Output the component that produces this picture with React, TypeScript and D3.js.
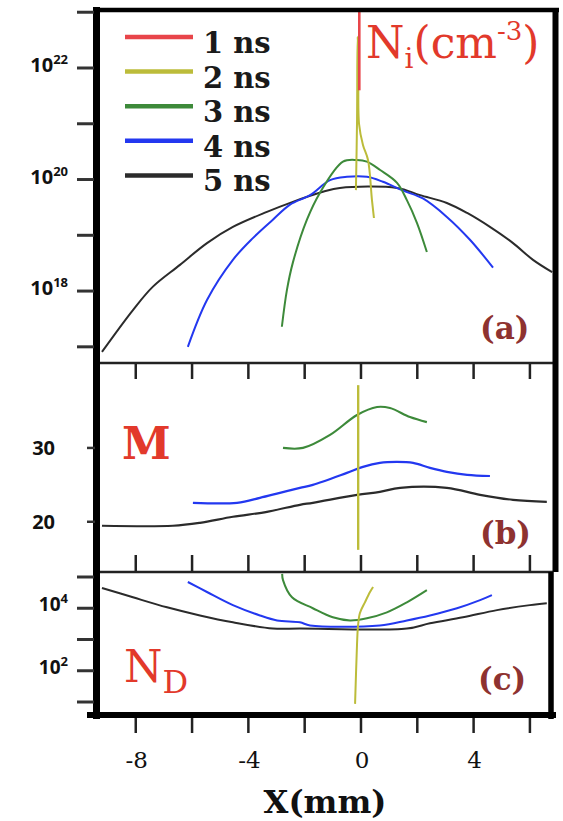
import React from 'react';
import * as d3 from 'd3';

const seriesNames = ['1 ns', '2 ns', '3 ns', '4 ns', '5 ns'];
const seriesColors = ['#e8454a', '#bcbc3a', '#3d8a3a', '#2338f0', '#2b2b2b'];

// Panel (a): Ni, log10 values (cm^-3)
const niX1 = [-0.06, -0.06];
const niLog1 = [23.2, 21.6];
const niX2 = [-0.18, -0.14, -0.12, -0.09, -0.07, 0.07, 0.25, 0.39, 0.46];
const niLog2 = [19.81, 21.07, 22.56, 22.14, 21.0, 20.62, 20.35, 19.63, 19.31];
const niX3 = [-2.81, -2.63, -2.42, -1.92, -1.46, -0.64, -0.14, 0.21, 0.68, 1.28, 1.63, 1.99, 2.34];
const niLog3 = [17.36, 18.02, 18.51, 19.28, 19.76, 20.32, 20.35, 20.32, 20.17, 19.94, 19.63, 19.22, 18.7];
const niX4 = [-6.15, -5.47, -4.55, -3.84, -3.13, -2.52, -1.81, -1.1, -0.5, 0.21, 0.78, 1.5, 2.2, 3.05, 3.87, 4.69];
const niLog4 = [17.0, 17.84, 18.56, 18.95, 19.28, 19.55, 19.72, 19.99, 20.05, 20.05, 19.96, 19.8, 19.66, 19.33, 18.92, 18.42];
const niX5 = [-9.2, -8.1, -7.39, -6.43, -5.47, -4.55, -3.34, -2.42, -1.35, -0.75, 1.28, 2.1, 3.05, 3.77, 4.58, 5.4, 6.11, 6.79];
const niLog5 = [16.91, 17.66, 18.08, 18.47, 18.86, 19.15, 19.42, 19.6, 19.78, 19.85, 19.85, 19.72, 19.58, 19.4, 19.15, 18.86, 18.56, 18.34];

// Panel (b): M
const mX2 = [-0.1, -0.1];
const mVal2 = [38.5, 16.2];
const mX3 = [-2.77, -2.06, -1.1, -0.14, 0.57, 1.03, 1.74, 2.34];
const mVal3 = [30.0, 30.0, 31.76, 34.46, 35.54, 35.4, 34.19, 33.5];
const mX4 = [-5.97, -4.4, -3.59, -2.88, -2.17, -1.71, -0.5, 0.07, 0.67, 1.28, 1.85, 2.45, 3.05, 3.77, 4.58];
const mVal4 = [22.57, 22.57, 23.24, 23.92, 24.59, 25.0, 26.62, 27.43, 27.97, 28.1, 27.97, 27.3, 26.76, 26.35, 26.2];
const mX5 = [-9.2, -6.68, -5.72, -4.55, -3.34, -2.17, -1.71, -0.14, 0.67, 1.39, 3.05, 4.23, 5.4, 6.6];
const mVal5 = [19.46, 19.46, 19.86, 20.68, 21.35, 22.3, 22.57, 23.65, 24.05, 24.6, 24.6, 23.65, 22.97, 22.7];

// Panel (c): ND, log10 values
const ndX2 = [-0.21, -0.14, -0.11, -0.04, 0.14, 0.32, 0.43];
const ndLog2 = [0.94, 2.87, 3.39, 3.84, 4.19, 4.52, 4.68];
const ndX3 = [-2.8, -2.77, -2.45, -1.71, -1.0, -0.39, 0.21, 0.92, 1.63, 2.34];
const ndLog3 = [5.1, 4.9, 4.35, 4.0, 3.71, 3.61, 3.68, 3.87, 4.19, 4.58];
const ndX4 = [-6.15, -5.47, -4.55, -3.59, -2.98, -2.17, -1.81, 0.67, 1.63, 2.45, 3.41, 4.23, 4.65];
const ndLog4 = [4.84, 4.52, 4.1, 3.77, 3.61, 3.55, 3.45, 3.45, 3.61, 3.77, 4.0, 4.26, 4.42];
const ndX5 = [-9.2, -8.1, -6.89, -5.72, -4.55, -3.13, -2.17, 1.63, 2.45, 3.62, 4.83, 6.0, 6.6];
const ndLog5 = [4.65, 4.35, 4.03, 3.77, 3.55, 3.35, 3.35, 3.35, 3.52, 3.71, 3.94, 4.1, 4.16];

const xTicks = [-8, -6, -4, -2, 0, 2, 4, 6];
const xTickLabels = [-8, -4, 0, 4];
const niTicks = [17, 18, 19, 20, 21, 22, 23];
const niTickLabels = [18, 20, 22];
const mTicks = [20, 30];
const ndTicks = [1, 2, 3, 4, 5];
const ndTickLabels = [2, 4];

const W = 563;
const H = 821;
const L = 100;
const R = 553;
const aTop = 10, aBot = 363, bBot = 572, cBot = 712;

const x = d3.scaleLinear().domain([-9.27, 6.82]).range([L, R]);
const yA = d3.scaleLog().domain([10 ** 16.71, 10 ** 23.04]).range([aBot, aTop]);
const yB = d3.scaleLinear().domain([13.2, 41.5]).range([bBot, aBot]);
const yC = d3.scaleLog().domain([10 ** 0.68, 10 ** 5.16]).range([cBot, bBot]);

type P = [number, number];
const zip = (xs: number[], ys: number[], log: boolean): P[] =>
  xs.map((v, i) => [v, log ? 10 ** ys[i] : ys[i]]);

function path(pts: P[], ys: (v: number) => number) {
  return d3
    .line<P>()
    .x((d) => x(d[0]))
    .y((d) => ys(d[1]))
    .curve(d3.curveCatmullRom.alpha(0.5))(pts) || '';
}

const panelA = [
  { pts: zip(niX5, niLog5, true), c: 4 },
  { pts: zip(niX4, niLog4, true), c: 3 },
  { pts: zip(niX3, niLog3, true), c: 2 },
  { pts: zip(niX2, niLog2, true), c: 1 },
  { pts: zip(niX1, niLog1, true), c: 0 },
];
const panelB = [
  { pts: zip(mX5, mVal5, false), c: 4 },
  { pts: zip(mX4, mVal4, false), c: 3 },
  { pts: zip(mX3, mVal3, false), c: 2 },
  { pts: zip(mX2, mVal2, false), c: 1 },
];
const panelC = [
  { pts: zip(ndX5, ndLog5, true), c: 4 },
  { pts: zip(ndX4, ndLog4, true), c: 3 },
  { pts: zip(ndX3, ndLog3, true), c: 2 },
  { pts: zip(ndX2, ndLog2, true), c: 1 },
];

const RED = '#e2392b';
const BROWN = '#8e3230';
const SERIF = "'DejaVu Serif', serif";
const SANS = "'Open Sans', 'Liberation Sans', sans-serif";

export default function App() {
  return (
    <svg
      width={W}
      height={H}
      viewBox={`0 0 ${W} ${H}`}
      style={{ position: 'absolute', left: 0, top: 0, background: '#fff' }}
    >
      <defs>
        <clipPath id="ca"><rect x={L} y={aTop} width={R - L} height={aBot - aTop} /></clipPath>
        <clipPath id="cb"><rect x={L} y={aBot} width={R - L} height={bBot - aBot} /></clipPath>
        <clipPath id="cc"><rect x={L} y={bBot} width={R - L} height={cBot - bBot} /></clipPath>
      </defs>
      <rect x={0} y={0} width={W} height={H} fill="#fff" />

      {/* curves */}
      <g clipPath="url(#ca)" fill="none">
        {panelA.map((s, i) => (
          <path key={i} d={path(s.pts, yA)} stroke={seriesColors[s.c]} strokeWidth={s.c === 0 ? 2.6 : 2} />
        ))}
      </g>
      <g clipPath="url(#cb)" fill="none">
        {panelB.map((s, i) => (
          <path key={i} d={path(s.pts, yB)} stroke={seriesColors[s.c]} strokeWidth={s.c === 1 ? 2.4 : 2.2} />
        ))}
      </g>
      <g clipPath="url(#cc)" fill="none">
        {panelC.map((s, i) => (
          <path key={i} d={path(s.pts, yC)} stroke={seriesColors[s.c]} strokeWidth={2} />
        ))}
      </g>

      {/* x ticks */}
      {xTicks.map((t) => (
        <g key={t} stroke="#222" strokeWidth={2.5}>
          <line x1={x(t)} x2={x(t)} y1={aBot} y2={aBot + 16} />
          <line x1={x(t)} x2={x(t)} y1={bBot} y2={bBot - 17} />
          <line x1={x(t)} x2={x(t)} y1={cBot + 5} y2={cBot + 21} />
        </g>
      ))}

      {/* divider lines */}
      <line x1={L} x2={R} y1={aBot} y2={aBot} stroke="#222" strokeWidth={2.5} />
      <line x1={L} x2={R} y1={bBot} y2={bBot} stroke="#222" strokeWidth={2.5} />

      {/* frame */}
      <line x1={96.5} x2={96.5} y1={7} y2={719} stroke="#000" strokeWidth={7} />
      <line x1={93} x2={559} y1={10} y2={10} stroke="#000" strokeWidth={4.5} />
      <line x1={555.5} x2={555.5} y1={8} y2={bBot} stroke="#000" strokeWidth={6} />
      <line x1={551} x2={551} y1={bBot} y2={719} stroke="#000" strokeWidth={5.5} />
      <line x1={87} x2={556} y1={cBot + 3} y2={cBot + 3} stroke="#000" strokeWidth={6} />

      {/* y axis a */}
      {niTicks.map((t) => (
        <line key={t} x1={77} x2={94} y1={yA(10 ** t)} y2={yA(10 ** t)} stroke="#333" strokeWidth={3} />
      ))}
      {niTickLabels.map((t) => (
        <text key={t} x={68} y={yA(10 ** t) + 4} textAnchor="end" fontFamily={SANS} fontWeight="bold" fontSize={20} fill="#111">
          10<tspan fontSize={13} dy={-8}>{t}</tspan>
        </text>
      ))}

      {/* y axis b */}
      {mTicks.map((t) => (
        <g key={t}>
          <line x1={87} x2={95} y1={yB(t)} y2={yB(t)} stroke="#333" strokeWidth={2.5} />
          <text x={55} y={yB(t) + 7} textAnchor="end" fontFamily={SANS} fontWeight="bold" fontSize={20} fill="#111">{t}</text>
        </g>
      ))}

      {/* y axis c */}
      {ndTicks.map((t) => (
        <line key={t} x1={77} x2={94} y1={yC(10 ** t)} y2={yC(10 ** t)} stroke="#333" strokeWidth={3} />
      ))}
      {ndTickLabels.map((t) => (
        <text key={t} x={68} y={yC(10 ** t) + 3} textAnchor="end" fontFamily={SANS} fontWeight="bold" fontSize={19} fill="#111">
          10<tspan fontSize={13} dy={-8}>{t}</tspan>
        </text>
      ))}

      {/* x tick labels */}
      {xTickLabels.map((t) => (
        <text key={t} x={x(t) + 1} y={768} textAnchor="middle" fontFamily={SERIF} fontSize={23} fill="#111">
          {t < 0 ? `-${Math.abs(t)}` : `${t}`}
        </text>
      ))}
      <text x={325} y={813} textAnchor="middle" fontFamily={SERIF} fontWeight="bold" fontSize={32} fill="#111">X(mm)</text>

      {/* legend */}
      {seriesNames.map((n, i) => (
        <g key={n}>
          <line x1={125} x2={193} y1={37 + i * 34.6} y2={37 + i * 34.6} stroke={seriesColors[i]} strokeWidth={4.5} />
          <text x={203} y={37 + i * 34.6 + 16} fontFamily={SERIF} fontWeight="bold" fontSize={29} fill="#1a1a1a">{n}</text>
        </g>
      ))}

      {/* panel titles */}
      <text x={366} y={58} fontFamily={SERIF} fontSize={44} fill={RED}>
        N<tspan fontSize={28} dy={10}>i</tspan>
        <tspan fontSize={44} dy={-10}>(cm</tspan>
        <tspan fontSize={26} dy={-18}>-3</tspan>
        <tspan fontSize={44} dy={18}>)</tspan>
      </text>
      <text x={122} y={459} fontFamily={SERIF} fontWeight="bold" fontSize={44} fill={RED}>M</text>
      <text x={124} y={682} fontFamily={SERIF} fontSize={44} fill={RED}>
        N<tspan fontSize={32} dy={11}>D</tspan>
      </text>

      <text x={480} y={339} fontFamily={SERIF} fontWeight="bold" fontSize={31} fill={BROWN}>(a)</text>
      <text x={480} y={544} fontFamily={SERIF} fontWeight="bold" fontSize={31} fill={BROWN}>(b)</text>
      <text x={478} y={690} fontFamily={SERIF} fontWeight="bold" fontSize={31} fill={BROWN}>(c)</text>
    </svg>
  );
}
